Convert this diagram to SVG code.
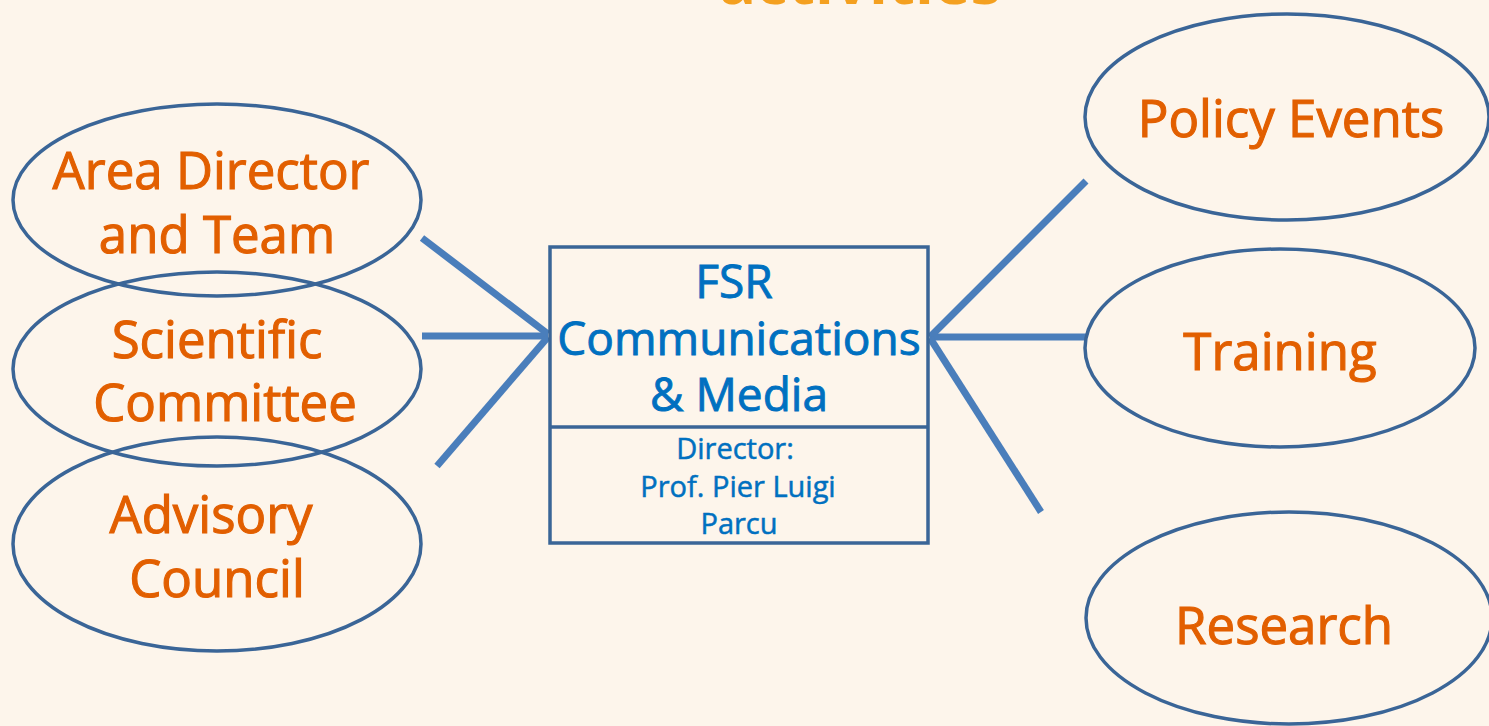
<svg xmlns="http://www.w3.org/2000/svg" width="1489" height="726" viewBox="0 0 1489 726">
  <style>
    .bg { fill: #FDF5EB; }
    .oval { fill: none; stroke: #3A6597; stroke-width: 3.5; }
    .box { fill: none; stroke: #3A6597; stroke-width: 3.5; }
    .link { stroke: #4A7EBB; stroke-width: 7; fill: none; stroke-linecap: butt; }
    .lbl { font-family: "Open Sans", "Noto Sans", "Liberation Sans", sans-serif; fill: #E25F00; stroke: #E25F00; stroke-width: 1.1; font-size: 51px; text-anchor: middle; }
    .head { font-family: "Open Sans", "Noto Sans", "Liberation Sans", sans-serif; fill: #0070C0; stroke: #0070C0; stroke-width: 0.9; font-size: 46px; text-anchor: middle; }
    .sub { font-family: "Open Sans", "Noto Sans", "Liberation Sans", sans-serif; fill: #0070C0; stroke: #0070C0; stroke-width: 0.5; font-size: 29px; text-anchor: middle; }
    .title { font-family: "Open Sans", "Noto Sans", "Liberation Sans", sans-serif; fill: #F4A020; font-size: 62px; font-weight: bold; text-anchor: middle; }
  </style>
  <rect class="bg" x="0" y="0" width="1489" height="726"/>

  <!-- slide heading, mostly above the visible area -->
  <text class="title" x="860" y="4">activities</text>

  <!-- connectors -->
  <g id="connectors">
    <line class="link" x1="422" y1="238" x2="548" y2="334"/>
    <line class="link" x1="422" y1="336" x2="548" y2="336"/>
    <line class="link" x1="437" y1="466" x2="548" y2="337"/>
    <line class="link" x1="1086" y1="181" x2="930" y2="337"/>
    <line class="link" x1="1087" y1="337" x2="930" y2="337"/>
    <line class="link" x1="1041" y1="512" x2="930" y2="338"/>
  </g>

  <!-- left side -->
  <g id="area-director">
    <ellipse class="oval" cx="217" cy="200" rx="204" ry="96"/>
    <text class="lbl" x="211" y="189">Area Director</text>
    <text class="lbl" x="217" y="253">and Team</text>
  </g>
  <g id="scientific-committee">
    <ellipse class="oval" cx="217" cy="369" rx="204" ry="97"/>
    <text class="lbl" x="217" y="358">Scientific</text>
    <text class="lbl" x="225" y="421">Committee</text>
  </g>
  <g id="advisory-council">
    <ellipse class="oval" cx="217" cy="544" rx="204" ry="107"/>
    <text class="lbl" x="211" y="533">Advisory</text>
    <text class="lbl" x="217" y="597">Council</text>
  </g>

  <!-- centre -->
  <g id="fsr-communications">
    <rect class="box" x="550" y="247" width="378" height="296"/>
    <line class="box" x1="550" y1="427" x2="928" y2="427"/>
    <text class="head" x="734" y="298">FSR</text>
    <text class="head" x="739" y="355">Communications</text>
    <text class="head" x="739" y="411">&amp; Media</text>
    <text class="sub" x="735" y="459">Director:</text>
    <text class="sub" x="738" y="497">Prof. Pier Luigi</text>
    <text class="sub" x="739" y="534">Parcu</text>
  </g>

  <!-- right side -->
  <g id="policy-events">
    <ellipse class="oval" cx="1287" cy="117" rx="202" ry="103"/>
    <text class="lbl" x="1291" y="137">Policy Events</text>
  </g>
  <g id="training">
    <ellipse class="oval" cx="1280" cy="348" rx="195" ry="99"/>
    <text class="lbl" x="1280" y="370">Training</text>
  </g>
  <g id="research">
    <ellipse class="oval" cx="1289" cy="618" rx="203" ry="106"/>
    <text class="lbl" x="1284" y="644">Research</text>
  </g>
</svg>
